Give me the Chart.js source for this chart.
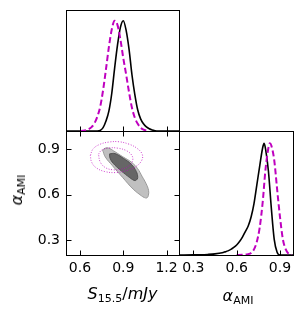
<!DOCTYPE html>
<html><head><meta charset="utf-8">
<script src="https://cdn.jsdelivr.net/npm/chart.js@4.4.1/dist/chart.umd.min.js"></script>
<style>
html,body{margin:0;padding:0;background:#fff;}
#wrap{position:relative;width:303px;height:316px;overflow:hidden;background:#fff;}
canvas{position:absolute;left:0;top:0;}
.lab{position:absolute;font-family:"DejaVu Sans";font-size:16px;line-height:1;color:#000;white-space:nowrap;}
.lab sub{font-size:11px;vertical-align:baseline;position:relative;top:3px;font-style:normal;}
</style></head><body>
<div id="wrap">
<canvas id="cTop" width="303" height="316"></canvas>
<canvas id="cMid" width="303" height="316"></canvas>
<canvas id="cRight" width="303" height="316"></canvas>
<div class="lab" id="xl1" style="left:122.5px;top:286px;transform:translateX(-50%);"><i>S</i><sub>15.5</sub>/<i>mJy</i></div>
<div class="lab" id="xl2" style="left:238px;top:288px;transform:translateX(-50%);"><i>α</i><sub>AMI</sub></div>
<div class="lab" id="yl" style="left:16.5px;top:190px;transform:translate(-50%,-50%) rotate(-90deg);"><i>α</i><sub>AMI</sub></div>
</div>
<script>
// ---- tick labels / axis limits ----
const S_TICKS = [0.6, 0.9, 1.2];
const A_TICKS = [0.3, 0.6, 0.9];
const S_RANGE = [0.503, 1.286];
const A_RANGE_Y = [0.201, 1.019];
const A_RANGE_X = [0.201, 0.990];

// ---- 1D marginal of S15.5 (normalised) ----
const S_X_BLACK = [0.503,0.72,0.74,0.76,0.78,0.80,0.82,0.84,0.86,0.88,0.90,0.92,0.94,0.96,0.98,1.00,1.02,1.04,1.06,1.08,1.10,1.12,1.14,1.286];
const S_P_BLACK = [0,0,0.005,0.03,0.09,0.18,0.34,0.57,0.78,0.94,1.00,0.91,0.74,0.51,0.33,0.19,0.11,0.065,0.037,0.02,0.009,0.003,0,0];
const S_X_MAG = [0.60,0.62,0.64,0.66,0.68,0.70,0.72,0.74,0.76,0.78,0.80,0.82,0.84,0.86,0.88,0.90,0.92,0.94,0.96,0.98,1.00,1.02,1.04,1.06,1.08];
const S_P_MAG = [0,0.003,0.008,0.018,0.035,0.07,0.13,0.22,0.37,0.56,0.76,0.92,1.00,0.96,0.83,0.66,0.51,0.35,0.21,0.12,0.065,0.03,0.012,0.004,0];

// ---- 1D marginal of alpha_AMI (normalised) ----
const A_X_BLACK = [0.201,0.30,0.35,0.40,0.45,0.50,0.52,0.54,0.56,0.58,0.60,0.62,0.64,0.66,0.68,0.70,0.72,0.74,0.76,0.78,0.79,0.80,0.82,0.84,0.86,0.88,0.90,0.99];
const A_P_BLACK = [0,0.001,0.002,0.005,0.01,0.02,0.028,0.037,0.05,0.068,0.09,0.12,0.16,0.21,0.26,0.34,0.46,0.63,0.80,0.96,1.00,0.95,0.75,0.42,0.14,0.025,0,0];
const A_X_MAG = [0.60,0.64,0.68,0.70,0.72,0.74,0.76,0.78,0.80,0.82,0.83,0.84,0.86,0.88,0.90,0.92,0.94,0.96,0.98];
const A_P_MAG = [0,0.002,0.008,0.018,0.05,0.12,0.25,0.47,0.77,0.96,1.00,0.98,0.85,0.59,0.34,0.14,0.05,0.01,0];

// ---- 2D contours (S15.5, alpha_AMI) ----
const GREY2_S = [0.757,0.775,0.800,0.831,0.895,0.958,1.000,1.030,1.058,1.075,1.074,1.064,1.046,1.025,0.968,0.895,0.825,0.775];
const GREY2_A = [0.893,0.906,0.906,0.889,0.850,0.812,0.770,0.720,0.672,0.628,0.595,0.578,0.580,0.592,0.636,0.713,0.790,0.848];
const GREY1_S = [0.805,0.842,0.900,0.955,0.990,1.000,0.990,0.975,0.930,0.875,0.830,0.808];
const GREY1_A = [0.868,0.870,0.839,0.800,0.752,0.712,0.695,0.693,0.722,0.765,0.806,0.840];
const MAG2_S = [0.672,0.690,0.735,0.800,0.870,0.940,0.995,1.030,1.030,0.995,0.930,0.850,0.770,0.710,0.680];
const MAG2_A = [0.858,0.900,0.930,0.946,0.948,0.932,0.905,0.868,0.830,0.790,0.760,0.745,0.752,0.778,0.815];
const MAG1_S = [0.728,0.750,0.800,0.860,0.920,0.958,0.965,0.940,0.890,0.830,0.775,0.740];
const MAG1_A = [0.866,0.893,0.907,0.906,0.890,0.860,0.825,0.790,0.768,0.763,0.778,0.815];

const BLACK = '#000000';
const MAGENTA = '#bf00bf';
const FONT = 'DejaVu Sans';

function pts(xs, ys) { return xs.map((x, i) => ({x: x, y: ys[i]})); }
function closed(xs, ys) { const p = pts(xs, ys); p.push({x: xs[0], y: ys[0]}); return p; }

const framePlugin = {
  id: 'frame',
  afterDatasetsDraw(chart, args, opts) {
    const ctx = chart.ctx, a = chart.chartArea;
    const L = Math.floor(a.left) + 0.5, R = Math.floor(a.right) + 0.5;
    const T = Math.floor(a.top) + 0.5, B = Math.floor(a.bottom) + 0.5;
    ctx.save();
    ctx.strokeStyle = '#000'; ctx.lineWidth = 1;
    ctx.strokeRect(L, T, R - L, B - T);
    const len = 5;
    (opts.ticks || []).forEach(t => {
      const sc = chart.scales[t.scale];
      t.values.forEach(v => {
        const p = Math.round(sc.getPixelForValue(v)) + 0.5;
        ctx.beginPath();
        if (t.side === 'bottom') { ctx.moveTo(p, B); ctx.lineTo(p, B - len); }
        if (t.side === 'top') { ctx.moveTo(p, T); ctx.lineTo(p, T + len); }
        if (t.side === 'left') { ctx.moveTo(L, p); ctx.lineTo(L + len, p); }
        if (t.side === 'right') { ctx.moveTo(R, p); ctx.lineTo(R - len, p); }
        ctx.stroke();
      });
    });
    ctx.restore();
  }
};

const base = {
  animation: false, responsive: false, events: [],
  elements: { point: { radius: 0 } },
};
function hiddenScale(min, max) { return { type: 'linear', display: false, min: min, max: max }; }
function tickFmt(v) { return Number(v).toFixed(1); }
function labelledX(range, ticks) {
  return {
    type: 'linear', position: 'bottom', min: range[0], max: range[1],
    grid: { display: false, drawTicks: false }, border: { display: false },
    ticks: { color: '#000', font: { family: FONT, size: 14 }, padding: 5, maxRotation: 0, autoSkip: false, callback: tickFmt },
    afterBuildTicks: s => { s.ticks = ticks.map(v => ({ value: v })); },
    afterFit: s => { s.height = 61; }
  };
}
function curve(data, color, dash, width) {
  return { data: data, showLine: true, borderColor: color, borderWidth: width, borderDash: dash,
           pointRadius: 0, fill: false, cubicInterpolationMode: 'monotone' };
}

// Top-left: marginal of S15.5
new Chart(document.getElementById('cTop'), {
  type: 'scatter',
  data: { datasets: [
    curve(pts(S_X_MAG, S_P_MAG), MAGENTA, [6, 3], 2),
    curve(pts(S_X_BLACK, S_P_BLACK), BLACK, [], 1.6)
  ]},
  options: Object.assign({}, base, {
    layout: { padding: { left: 66, right: 124, top: 10, bottom: 185 } },
    scales: { x: hiddenScale(S_RANGE[0], S_RANGE[1]), y: hiddenScale(0, 1.097) },
    plugins: { legend: { display: false }, tooltip: { enabled: false },
      frame: { ticks: [{ scale: 'x', side: 'bottom', values: S_TICKS }] } }
  }),
  plugins: [framePlugin]
});

// Bottom-left: 2D contours
function contour(data, line, fillColor, width, dash) {
  return { data: data, showLine: true, borderColor: line, borderWidth: width, borderDash: dash || [],
           backgroundColor: fillColor || 'rgba(0,0,0,0)', fill: fillColor ? 'shape' : false,
           pointRadius: 0, tension: 0.4 };
}
new Chart(document.getElementById('cMid'), {
  type: 'scatter',
  data: { datasets: [
    contour(closed(MAG1_S, MAG1_A), 'rgba(191,0,191,0.75)', null, 1, [1, 1.6]),
    contour(closed(MAG2_S, MAG2_A), 'rgba(191,0,191,0.75)', null, 1, [1, 1.6]),
    contour(closed(GREY1_S, GREY1_A), '#505050', '#666666', 1),
    contour(closed(GREY2_S, GREY2_A), '#9a9a9a', '#c0c0c0', 1)
  ]},
  options: Object.assign({}, base, {
    layout: { padding: { left: 0, right: 124, top: 131, bottom: 0 } },
    scales: {
      x: labelledX(S_RANGE, S_TICKS),
      y: {
        type: 'linear', position: 'left', min: A_RANGE_Y[0], max: A_RANGE_Y[1],
        grid: { display: false, drawTicks: false }, border: { display: false },
        ticks: { color: '#000', font: { family: FONT, size: 14 }, padding: 6, autoSkip: false, callback: tickFmt },
        afterBuildTicks: s => { s.ticks = A_TICKS.map(v => ({ value: v })); },
        afterFit: s => { s.width = 66; }
      }
    },
    plugins: { legend: { display: false }, tooltip: { enabled: false },
      frame: { ticks: [
        { scale: 'x', side: 'bottom', values: S_TICKS },
        { scale: 'x', side: 'top', values: S_TICKS },
        { scale: 'y', side: 'left', values: A_TICKS },
        { scale: 'y', side: 'right', values: A_TICKS }
      ] } }
  }),
  plugins: [framePlugin]
});

// Bottom-right: marginal of alpha_AMI
new Chart(document.getElementById('cRight'), {
  type: 'scatter',
  data: { datasets: [
    curve(pts(A_X_MAG, A_P_MAG), MAGENTA, [6, 3], 2),
    curve(pts(A_X_BLACK, A_P_BLACK), BLACK, [], 1.6)
  ]},
  options: Object.assign({}, base, {
    layout: { padding: { left: 179, right: 10, top: 131, bottom: 0 } },
    scales: { x: labelledX(A_RANGE_X, A_TICKS), y: hiddenScale(0, 1.11) },
    plugins: { legend: { display: false }, tooltip: { enabled: false },
      frame: { ticks: [{ scale: 'x', side: 'bottom', values: A_TICKS }] } }
  }),
  plugins: [framePlugin]
});
</script>
</body></html>
